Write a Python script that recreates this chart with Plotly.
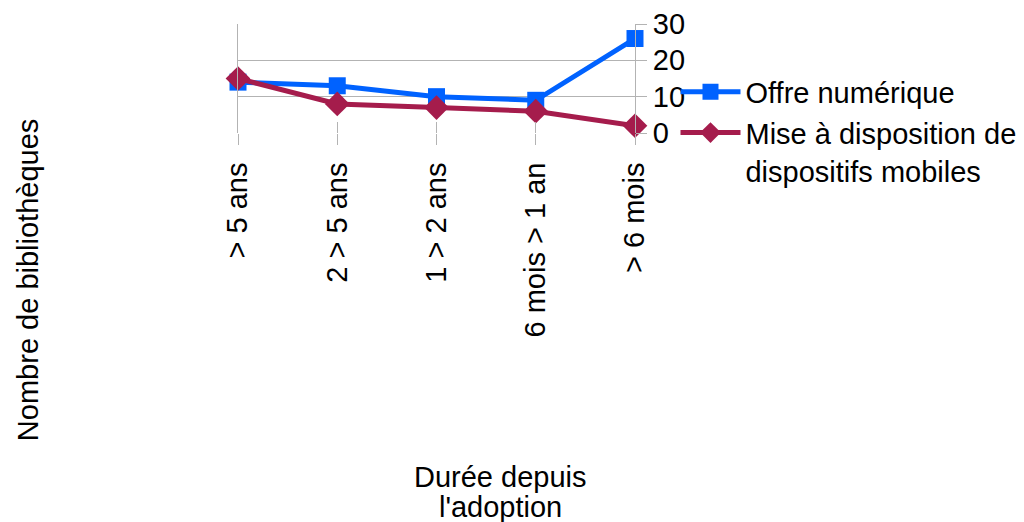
import plotly.graph_objects as go

categories = ["> 5 ans", "2 > 5 ans", "1 > 2 ans", "6 mois > 1 an", "> 6 mois"]
offre_numerique = [14, 13, 10, 9, 26]
mise_a_disposition = [15, 8, 7, 6, 2]
y_ticks = [0, 10, 20, 30]

BLUE = "#0062ff"
MAROON = "#a51c4c"
GRID = "#b3b3b3"
FONT = "Liberation Sans, Arial, sans-serif"

fig = go.Figure()
fig.add_trace(go.Scatter(
    x=categories, y=offre_numerique, name="Offre numérique",
    mode="lines+markers", cliponaxis=False,
    line=dict(color=BLUE, width=5),
    marker=dict(symbol="square", size=17, color=BLUE),
))
fig.add_trace(go.Scatter(
    x=categories, y=mise_a_disposition, name="Mise à disposition de<br>dispositifs mobiles",
    mode="lines+markers", cliponaxis=False,
    line=dict(color=MAROON, width=5),
    marker=dict(symbol="diamond", size=19, color=MAROON),
))
# invisible helper trace so the overlay axis (inner half of the crossing ticks) is drawn
fig.add_trace(go.Scatter(
    x=categories, y=offre_numerique, xaxis="x2", mode="lines",
    line=dict(width=0), opacity=0, showlegend=False, hoverinfo="skip",
))

fig.update_layout(
    width=1016, height=514,
    margin=dict(l=230, r=389, t=16, b=389, autoexpand=False),
    paper_bgcolor="white", plot_bgcolor="white",
    font=dict(family=FONT, size=29, color="black"),
    showlegend=True,
    legend=dict(
        x=1.102, y=0.61, xanchor="left", yanchor="top",
        valign="top", font=dict(size=29), tracegroupgap=0,
        bgcolor="rgba(0,0,0,0)", itemwidth=60, maxheight=200,
        borderwidth=0,
    ),
    xaxis=dict(
        type="category", categoryorder="array", categoryarray=categories,
        range=[0, len(categories) - 1], automargin=False,
        showgrid=False, zeroline=False, showline=False,
        ticks="outside", ticklen=11, tickwidth=1, tickcolor=GRID,
        tickangle=-90, tickfont=dict(size=29), ticklabelstandoff=6,
    ),
    xaxis2=dict(
        type="category", categoryorder="array", categoryarray=categories,
        range=[0, len(categories) - 1], overlaying="x", anchor="y", side="bottom",
        showgrid=False, zeroline=False, showline=False, showticklabels=False,
        ticks="inside", ticklen=11, tickwidth=1, tickcolor=GRID, automargin=False,
    ),
    yaxis=dict(
        side="right", range=[0, 30], tickvals=y_ticks, automargin=False,
        showgrid=True, gridcolor=GRID, gridwidth=1,
        zeroline=False, showline=True, linecolor=GRID, linewidth=1, mirror=True,
        ticks="outside", ticklen=11, tickwidth=1, tickcolor=GRID,
        tickfont=dict(size=29),
    ),
    annotations=[
        dict(text="Nombre de bibliothèques", textangle=-90, showarrow=False,
             xref="paper", yref="paper", x=-0.529, y=-1.35,
             xanchor="center", yanchor="middle", font=dict(size=29)),
        dict(text="Durée depuis", showarrow=False,
             xref="paper", yref="paper", x=0.66, y=-3.156,
             xanchor="center", yanchor="middle", font=dict(size=29)),
        dict(text="l'adoption", showarrow=False,
             xref="paper", yref="paper", x=0.66, y=-3.43,
             xanchor="center", yanchor="middle", font=dict(size=29)),
    ],
)

fig.write_html("out.html")
